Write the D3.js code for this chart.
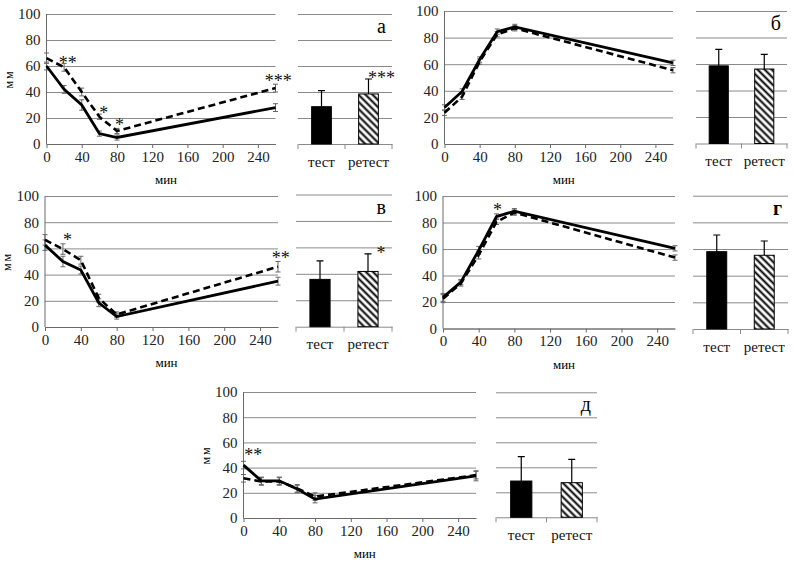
<!DOCTYPE html>
<html>
<head>
<meta charset="utf-8">
<script src="https://cdn.jsdelivr.net/npm/d3@7"></script>
<style>
  body { margin: 0; background: #fff; }
  svg text { font-family: 'Liberation Serif', 'Times New Roman', Tinos, serif !important; }
</style>
</head>
<body>
<svg id="chart" width="794" height="562" font-family="Liberation Serif"></svg>
<script>
// shared axes
var times = [0, 20, 40, 60, 80, 260];
var xTicks = [0, 40, 80, 120, 160, 200, 240];
var yTicks = [0, 20, 40, 60, 80, 100];
var groups = ["тест", "ретест"];

// panel а
var testA = [60, 42, 30, 8, 5, 28];
var testAErr = [3, 3, 4, 2, 2, 3];
var retestA = [66, 59, 40, 21, 10, 43];
var retestAErr = [4, 3, 3, 2, 2, 3];
var starsA = [{t: 24, v: 65, s: "**"}, {t: 65, v: 26, s: "*"}, {t: 83, v: 17, s: "*"}, {t: 263, v: 51, s: "***"}];
var barA = [28.7, 38.5];
var barAErr = [12.3, 11.5];
var barStarsA = ["", "***"];

// panel б
var testB = [27.5, 39.5, 63.5, 84.5, 88, 61];
var testBErr = [2, 2, 2, 2, 2, 2];
var retestB = [23.5, 35.5, 62, 82.5, 87, 55.5];
var retestBErr = [2, 2, 2, 2, 2, 2];
var starsB = [];
var barB = [58.6, 56.2];
var barBErr = [12.4, 11.1];
var barStarsB = ["", ""];

// panel в
var testV = [62.5, 50, 43.5, 18.5, 8, 35];
var testVErr = [4, 4, 3, 3, 2, 3];
var retestV = [66.5, 59.5, 51, 22, 9.5, 46];
var retestVErr = [4, 4, 3, 3, 2, 4];
var starsV = [{t: 25, v: 69, s: "*"}, {t: 263, v: 55, s: "**"}];
var barV = [35.8, 41.8];
var barVErr = [14, 13.3];
var barStarsV = ["", "*"];

// panel г
var testG = [23.5, 35, 59, 84.5, 88.5, 60.5];
var testGErr = [3, 2, 3, 2, 2, 2];
var retestG = [22.5, 34, 55.5, 80.5, 87.5, 53.5];
var retestGErr = [3, 2, 3, 2, 2, 2];
var starsG = [{t: 61, v: 92, s: "*"}];
var barG = [58, 55.3];
var barGErr = [12.5, 10.7];
var barStarsG = ["", ""];

// panel д
var testD = [42, 29.5, 29.5, 23, 15, 33.5];
var testDErr = [3, 3, 3, 3, 3, 4];
var retestD = [31.5, 29, 29, 23.5, 17, 34];
var retestDErr = [3, 3, 3, 3, 3, 3];
var starsD = [{t: 11, v: 52, s: "**"}];
var barD = [29, 27.7];
var barDErr = [19.5, 18.7];
var barStarsD = ["", ""];

var svg = d3.select("#chart");
var gridColor = "#8a8a8a";
var axisColor = "#6a6a6a";
var fontName = "Liberation Serif";

// hatch for the ретест bar
var pat = svg.append("defs").append("pattern")
  .attr("id", "hatch")
  .attr("patternUnits", "userSpaceOnUse")
  .attr("width", 5).attr("height", 5)
  .attr("patternTransform", "rotate(-45)");
pat.append("rect").attr("width", 5).attr("height", 5).attr("fill", "#fff");
pat.append("line").attr("x1", 1.5).attr("y1", 0).attr("x2", 1.5).attr("y2", 5)
  .attr("stroke", "#000").attr("stroke-width", 2);

function linePanel(p) {
  var g = svg.append("g");
  var x = d3.scaleLinear().domain([0, 260]).range([p.x0, p.x1]);
  var y = d3.scaleLinear().domain([0, 100]).range([p.yb, p.yt]);

  // y gridlines + labels
  var ya = g.append("g")
    .attr("transform", "translate(" + p.x0 + ",0)")
    .call(d3.axisLeft(y).tickValues(yTicks).tickSize(-(p.x1 - p.x0)).tickPadding(6));
  ya.attr("font-family", fontName);
  ya.select(".domain").remove();
  ya.selectAll("line").attr("stroke", gridColor);
  ya.selectAll("text").attr("font-size", 15).attr("fill", "#222")
    .attr("font-family", fontName);

  // vertical axis line
  g.append("line").attr("x1", p.x0).attr("x2", p.x0).attr("y1", p.yt).attr("y2", p.yb)
    .attr("stroke", axisColor);

  // x axis
  var xa = g.append("g")
    .attr("transform", "translate(0," + p.yb + ")")
    .call(d3.axisBottom(x).tickValues(xTicks).tickSize(4).tickPadding(3).tickSizeOuter(0));
  xa.attr("font-family", fontName);
  xa.select(".domain").attr("stroke", axisColor);
  xa.selectAll("line").attr("stroke", axisColor);
  xa.selectAll("text").attr("font-size", 15).attr("fill", "#222")
    .attr("font-family", fontName);

  // axis titles
  g.append("text")
    .attr("x", (p.x0 + p.x1) / 2 + 5).attr("y", p.yb + 40)
    .attr("text-anchor", "middle").attr("font-size", 13)
    .attr("font-family", fontName)
    .text("мин");
  if (p.yLabel) {
    g.append("text")
      .attr("transform", "translate(" + (p.x0 - 34) + "," + ((p.yt + p.yb) / 2) + ") rotate(-90)")
      .attr("text-anchor", "middle").attr("font-size", 12)
      .attr("letter-spacing", 2)
      .attr("font-family", fontName)
      .text("мм");
  }

  var line = d3.line()
    .x(function (d, i) { return x(times[i]); })
    .y(function (d) { return y(d); });

  // error bars
  [[p.test, p.testErr], [p.retest, p.retestErr]].forEach(function (s) {
    g.append("g").selectAll("path")
      .data(s[0])
      .enter()
      .append("path")
        .attr("d", function (d, i) {
          var cx = x(times[i]), t = y(d + s[1][i]), b = y(d - s[1][i]);
          return "M" + cx + "," + t + "V" + b + "M" + (cx - 2.5) + "," + t + "h5M" + (cx - 2.5) + "," + b + "h5";
        })
        .attr("fill", "none")
        .attr("stroke", "#666")
        .attr("stroke-width", 1);
  });

  g.append("path").datum(p.retest)
    .attr("d", line)
    .attr("fill", "none").attr("stroke", "#000")
    .attr("stroke-width", 2.6).attr("stroke-dasharray", "7,4");
  g.append("path").datum(p.test)
    .attr("d", line)
    .attr("fill", "none").attr("stroke", "#000")
    .attr("stroke-width", 2.8);

  g.append("g").selectAll("text")
    .data(p.stars)
    .enter()
    .append("text")
      .attr("x", function (d) { return x(d.t); })
      .attr("y", function (d) { return y(d.v) + 9; })
      .attr("text-anchor", "middle")
      .attr("font-size", 18)
      .attr("fill", "#111")
      .attr("font-family", fontName)
      .text(function (d) { return d.s; });
}

function barPanel(p) {
  var g = svg.append("g");
  var x = d3.scaleBand().domain(groups).range([p.x0, p.x1]).padding(0);
  var y = d3.scaleLinear().domain([0, 100]).range([p.yb, p.yt]);
  var bw = x.bandwidth() * 0.42;

  var ya = g.append("g")
    .attr("transform", "translate(" + p.x0 + ",0)")
    .call(d3.axisLeft(y).tickValues(yTicks.slice(1)).tickSize(-(p.x1 - p.x0)).tickFormat(""));
  ya.select(".domain").remove();
  ya.selectAll("line").attr("stroke", gridColor);

  var xa = g.append("g")
    .attr("transform", "translate(0," + p.yb + ")")
    .call(d3.axisBottom(x).tickSize(0).tickPadding(12));
  xa.attr("font-family", fontName);
  xa.select(".domain").attr("stroke", gridColor);
  xa.selectAll("text").attr("font-size", 15).attr("fill", "#111")
    .attr("font-family", fontName);

  // category boundary ticks
  var bounds = groups.map(function (d) { return x(d); }).concat([p.x1]);
  g.append("g").selectAll("line")
    .data(bounds)
    .enter()
    .append("line")
      .attr("x1", function (d) { return d; }).attr("x2", function (d) { return d; })
      .attr("y1", p.yb).attr("y2", p.yb + 5)
      .attr("stroke", gridColor);

  // error bars (upper only)
  g.append("g").selectAll("path")
    .data(p.vals)
    .enter()
    .append("path")
      .attr("d", function (d, i) {
        var cx = x(groups[i]) + x.bandwidth() / 2, t = y(d + p.err[i]);
        return "M" + cx + "," + y(d) + "V" + t + "M" + (cx - 3.5) + "," + t + "h7";
      })
      .attr("stroke", "#000").attr("stroke-width", 1.2).attr("fill", "none");

  g.append("g").selectAll("rect")
    .data(p.vals)
    .enter()
    .append("rect")
      .attr("x", function (d, i) { return x(groups[i]) + (x.bandwidth() - bw) / 2; })
      .attr("y", function (d) { return y(d); })
      .attr("width", bw)
      .attr("height", function (d) { return p.yb - y(d); })
      .attr("fill", function (d, i) { return i === 0 ? "#000" : "url(#hatch)"; })
      .attr("stroke", "#000").attr("stroke-width", 1);

  g.append("g").selectAll("text")
    .data(p.vals)
    .enter()
    .append("text")
      .attr("x", function (d, i) { return x(groups[i]) + x.bandwidth() / 2 + 13; })
      .attr("y", function (d, i) { return y(d + p.err[i]) + 5; })
      .attr("text-anchor", "middle")
      .attr("font-size", 18)
      .attr("fill", "#111")
      .attr("font-family", fontName)
      .text(function (d, i) { return p.stars[i]; });

  g.append("text")
    .attr("x", p.x1 - 6).attr("y", (y(100) + y(80)) / 2 + 6)
    .attr("text-anchor", "end")
    .attr("font-size", 20)
    .attr("font-weight", p.bold ? "bold" : "normal")
    .attr("font-family", fontName)
    .text(p.letter);
}

linePanel({x0: 46.5, x1: 275.5, yt: 14, yb: 144, yLabel: true,
  test: testA, testErr: testAErr, retest: retestA, retestErr: retestAErr, stars: starsA});
barPanel({x0: 298, x1: 392, yt: 14, yb: 144, vals: barA, err: barAErr, stars: barStarsA, letter: "а"});

linePanel({x0: 444.5, x1: 673, yt: 11, yb: 144, yLabel: false,
  test: testB, testErr: testBErr, retest: retestB, retestErr: retestBErr, stars: starsB});
barPanel({x0: 696, x1: 787, yt: 11, yb: 143.5, vals: barB, err: barBErr, stars: barStarsB, letter: "б"});

linePanel({x0: 45, x1: 278, yt: 196, yb: 327, yLabel: true,
  test: testV, testErr: testVErr, retest: retestV, retestErr: retestVErr, stars: starsV});
barPanel({x0: 296, x1: 392, yt: 194.5, yb: 326.7, vals: barV, err: barVErr, stars: barStarsV, letter: "в"});

linePanel({x0: 443, x1: 675, yt: 196, yb: 328.5, yLabel: false,
  test: testG, testErr: testGErr, retest: retestG, retestErr: retestGErr, stars: starsG});
barPanel({x0: 693, x1: 788, yt: 195.7, yb: 329, vals: barG, err: barGErr, stars: barStarsG, letter: "г", bold: true});

linePanel({x0: 243.5, x1: 476, yt: 392, yb: 518, yLabel: true,
  test: testD, testErr: testDErr, retest: retestD, retestErr: retestDErr, stars: starsD});
barPanel({x0: 496, x1: 597, yt: 392.3, yb: 517.3, vals: barD, err: barDErr, stars: barStarsD, letter: "д"});
</script>
</body>
</html>
